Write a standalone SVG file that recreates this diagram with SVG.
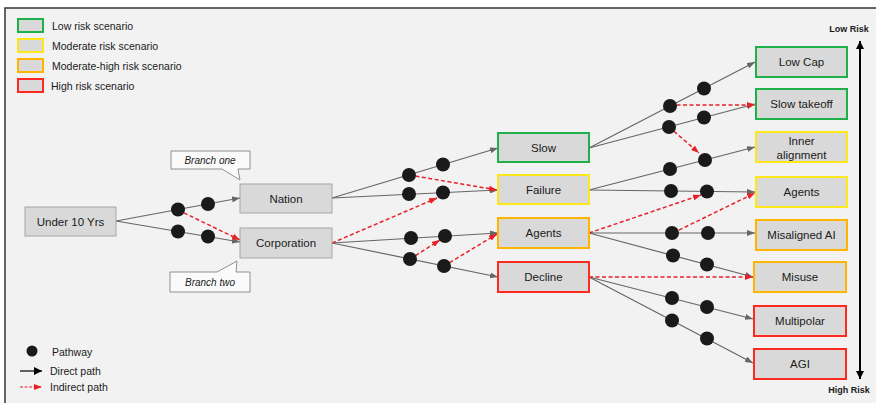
<svg xmlns="http://www.w3.org/2000/svg" width="876" height="403" viewBox="0 0 876 403">
  <defs>
    <marker id="arrow-gray" viewBox="0 0 8 6" refX="8" refY="3" markerWidth="8" markerHeight="6" markerUnits="userSpaceOnUse" orient="auto">
      <path d="M0,0 L8,3 L0,6 Z" fill="#666"/>
    </marker>
    <marker id="arrow-red" viewBox="0 0 8 6" refX="8" refY="3" markerWidth="8" markerHeight="6" markerUnits="userSpaceOnUse" orient="auto">
      <path d="M0,0 L8,3 L0,6 Z" fill="#e8202a"/>
    </marker>
    <marker id="arrow-black" viewBox="0 0 8 8" refX="8" refY="4" markerWidth="8" markerHeight="8" markerUnits="userSpaceOnUse" orient="auto">
      <path d="M0,0 L8,4 L0,8 Z" fill="#000"/>
    </marker>
  </defs>
  <style>
    text { font-family: "Liberation Sans", Arial, sans-serif; fill: #1a1a1a; }
    .box { fill: #d9d9d9; stroke: #a6a6a6; stroke-width: 1; }
    .low { stroke: #1fb04a; stroke-width: 2; }
    .mod { stroke: #ffe81a; stroke-width: 2; }
    .modhigh { stroke: #ffb400; stroke-width: 2; }
    .high { stroke: #ff2a1f; stroke-width: 2; }
    .lbl { font-size: 11.5px; text-anchor: middle; dominant-baseline: central; }
    .leg { font-size: 10.5px; }
    .direct { stroke: #666; stroke-width: 1.2; fill: none; marker-end: url(#arrow-gray); }
    .indirect { stroke: #e8202a; stroke-width: 1.5; stroke-dasharray: 4 2.5; fill: none; marker-end: url(#arrow-red); }
    .dot { fill: #1a1a1a; }
    .callout { fill: #fafafa; stroke: #777; stroke-width: 0.8; }
    .note { font-size: 10px; font-style: italic; text-anchor: middle; }
    .risk { font-size: 9px; font-weight: bold; text-anchor: middle; }
  </style>

  <!-- page and panel -->
  <rect x="0" y="0" width="876" height="403" fill="#ffffff"/>
  <rect x="5" y="8" width="880" height="400" fill="#f2f2f2" stroke="#333" stroke-width="1.5"/>

  <!-- legend: scenario risk levels -->
  <g id="legend-risk">
    <rect x="18" y="19" width="25" height="13" fill="#d9d9d9" class="low"/>
    <text class="leg" x="52" y="29.5">Low risk scenario</text>
    <rect x="18" y="39" width="25" height="13" fill="#d9d9d9" class="mod"/>
    <text class="leg" x="52" y="49.5">Moderate risk scenario</text>
    <rect x="18" y="59" width="25" height="13" fill="#d9d9d9" class="modhigh"/>
    <text class="leg" x="52" y="69.5">Moderate-high risk scenario</text>
    <rect x="18" y="79" width="25" height="13" fill="#d9d9d9" class="high"/>
    <text class="leg" x="51" y="89.5">High risk scenario</text>
  </g>

  <!-- legend: path symbols -->
  <g id="legend-paths">
    <circle class="dot" cx="32" cy="351" r="5.5"/>
    <text class="leg" x="52" y="356">Pathway</text>
    <line x1="20" y1="371" x2="42" y2="371" stroke="#000" stroke-width="1.2" marker-end="url(#arrow-black)"/>
    <text class="leg" x="50" y="374.5">Direct path</text>
    <line x1="20" y1="387" x2="42" y2="387" stroke="#e8202a" stroke-width="1.2" stroke-dasharray="3 1.5" marker-end="url(#arrow-red)"/>
    <text class="leg" x="50" y="390.5">Indirect path</text>
  </g>

  <!-- connectors -->
  <g id="connectors">
    <!-- direct paths -->
    <line class="direct" x1="116" y1="221" x2="240" y2="198"/>
    <line class="direct" x1="116" y1="221" x2="240" y2="242"/>
    <line class="direct" x1="332" y1="198" x2="498" y2="148"/>
    <line class="direct" x1="332" y1="198" x2="498" y2="190"/>
    <line class="direct" x1="332" y1="243" x2="498" y2="233"/>
    <line class="direct" x1="332" y1="243" x2="498" y2="277"/>
    <line class="direct" x1="589" y1="148" x2="755" y2="62"/>
    <line class="direct" x1="589" y1="148" x2="755" y2="104"/>
    <line class="direct" x1="589" y1="190" x2="755" y2="147"/>
    <line class="direct" x1="589" y1="190" x2="755" y2="192"/>
    <line class="direct" x1="589" y1="233" x2="755" y2="233"/>
    <line class="direct" x1="589" y1="233" x2="753" y2="277"/>
    <line class="direct" x1="589" y1="277" x2="753" y2="319"/>
    <line class="direct" x1="589" y1="277" x2="753" y2="363"/>

    <!-- indirect paths -->
    <line class="indirect" x1="178" y1="210" x2="240" y2="240"/>
    <line class="indirect" x1="409" y1="175" x2="497" y2="190"/>
    <line class="indirect" x1="332" y1="243" x2="437" y2="198"/>
    <line class="indirect" x1="410" y1="259" x2="440" y2="240"/>
    <line class="indirect" x1="444" y1="266" x2="497" y2="234"/>
    <line class="indirect" x1="670" y1="105" x2="755" y2="105"/>
    <line class="indirect" x1="669" y1="127" x2="699" y2="153"/>
    <line class="indirect" x1="589" y1="233" x2="701" y2="195"/>
    <line class="indirect" x1="673" y1="233" x2="755" y2="193"/>
    <line class="indirect" x1="589" y1="277" x2="753" y2="277"/>

    <!-- risk scale -->
    <line x1="860" y1="50" x2="860" y2="370" stroke="#000" stroke-width="2"/>
    <line x1="860" y1="50" x2="860" y2="41" stroke="#000" stroke-width="2" marker-end="url(#arrow-black)"/>
    <line x1="860" y1="370" x2="860" y2="379" stroke="#000" stroke-width="2" marker-end="url(#arrow-black)"/>
  </g>

  <!-- pathway dots -->
  <g id="pathways">
    <circle class="dot" cx="178" cy="209.5" r="7"/>
    <circle class="dot" cx="208" cy="204" r="7"/>
    <circle class="dot" cx="178" cy="231.5" r="7"/>
    <circle class="dot" cx="208" cy="236.5" r="7"/>

    <circle class="dot" cx="409" cy="175" r="7"/>
    <circle class="dot" cx="443" cy="164.5" r="7"/>
    <circle class="dot" cx="409" cy="194" r="7"/>
    <circle class="dot" cx="443" cy="192.5" r="7"/>
    <circle class="dot" cx="411" cy="238" r="7"/>
    <circle class="dot" cx="445" cy="236" r="7"/>
    <circle class="dot" cx="410" cy="259" r="7"/>
    <circle class="dot" cx="444" cy="266" r="7"/>

    <circle class="dot" cx="670" cy="106" r="7"/>
    <circle class="dot" cx="704" cy="88.5" r="7"/>
    <circle class="dot" cx="669" cy="127" r="7"/>
    <circle class="dot" cx="704" cy="117.5" r="7"/>
    <circle class="dot" cx="670" cy="169" r="7"/>
    <circle class="dot" cx="705" cy="160" r="7"/>
    <circle class="dot" cx="671" cy="191" r="7"/>
    <circle class="dot" cx="707" cy="191.5" r="7"/>
    <circle class="dot" cx="672" cy="233" r="7"/>
    <circle class="dot" cx="708" cy="233" r="7"/>
    <circle class="dot" cx="673" cy="255.5" r="7"/>
    <circle class="dot" cx="707" cy="264.5" r="7"/>
    <circle class="dot" cx="672" cy="298" r="7"/>
    <circle class="dot" cx="707" cy="307" r="7"/>
    <circle class="dot" cx="672" cy="320.5" r="7"/>
    <circle class="dot" cx="707" cy="338.5" r="7"/>
  </g>

  <!-- root and branch nodes -->
  <g id="under10">
    <rect class="box" x="25" y="207" width="91" height="29"/>
    <text class="lbl" x="70.5" y="221.5">Under 10 Yrs</text>
  </g>
  <g id="nation">
    <rect class="box" x="240" y="184" width="92" height="29"/>
    <text class="lbl" x="286" y="198.5">Nation</text>
  </g>
  <g id="corporation">
    <rect class="box" x="240" y="228" width="92" height="30"/>
    <text class="lbl" x="286" y="243">Corporation</text>
  </g>

  <!-- branch callouts -->
  <g id="branch-one">
    <path class="callout" d="M171,151 H250 V169 H238 L240,180 L222,169 H171 Z"/>
    <text class="note" x="210" y="163.5">Branch one</text>
  </g>
  <g id="branch-two">
    <path class="callout" d="M170,272 H217 L237,261 L236,272 H250 V292 H170 Z"/>
    <text class="note" x="210" y="285.5">Branch two</text>
  </g>

  <!-- middle scenarios -->
  <g id="slow">
    <rect class="box low" x="498" y="133" width="91" height="29"/>
    <text class="lbl" x="543.5" y="147.5">Slow</text>
  </g>
  <g id="failure">
    <rect class="box mod" x="498" y="175" width="91" height="29"/>
    <text class="lbl" x="543.5" y="189.5">Failure</text>
  </g>
  <g id="agents-mid">
    <rect class="box modhigh" x="498" y="218" width="91" height="30"/>
    <text class="lbl" x="543.5" y="233">Agents</text>
  </g>
  <g id="decline">
    <rect class="box high" x="498" y="262" width="91" height="30"/>
    <text class="lbl" x="543.5" y="277">Decline</text>
  </g>

  <!-- outcome scenarios -->
  <g id="low-cap">
    <rect class="box low" x="756" y="47" width="91" height="30"/>
    <text class="lbl" x="801.5" y="62">Low Cap</text>
  </g>
  <g id="slow-takeoff">
    <rect class="box low" x="756" y="89" width="91" height="30"/>
    <text class="lbl" x="801.5" y="104">Slow takeoff</text>
  </g>
  <g id="inner-alignment">
    <rect class="box mod" x="756" y="132" width="91" height="30"/>
    <text class="lbl" x="801.5" y="140.5">Inner</text>
    <text class="lbl" x="801.5" y="155">alignment</text>
  </g>
  <g id="agents-out">
    <rect class="box mod" x="756" y="177" width="91" height="30"/>
    <text class="lbl" x="801.5" y="192">Agents</text>
  </g>
  <g id="misaligned-ai">
    <rect class="box modhigh" x="756" y="220" width="91" height="30"/>
    <text class="lbl" x="801.5" y="235">Misaligned AI</text>
  </g>
  <g id="misuse">
    <rect class="box modhigh" x="754" y="262" width="92" height="30"/>
    <text class="lbl" x="800" y="277">Misuse</text>
  </g>
  <g id="multipolar">
    <rect class="box high" x="754" y="306" width="92" height="30"/>
    <text class="lbl" x="800" y="321">Multipolar</text>
  </g>
  <g id="agi">
    <rect class="box high" x="754" y="349" width="92" height="30"/>
    <text class="lbl" x="800" y="364">AGI</text>
  </g>

  <!-- risk scale labels -->
  <g id="risk-scale">
    <text class="risk" x="849" y="32">Low Risk</text>
    <text class="risk" x="849" y="393">High Risk</text>
  </g>
</svg>
